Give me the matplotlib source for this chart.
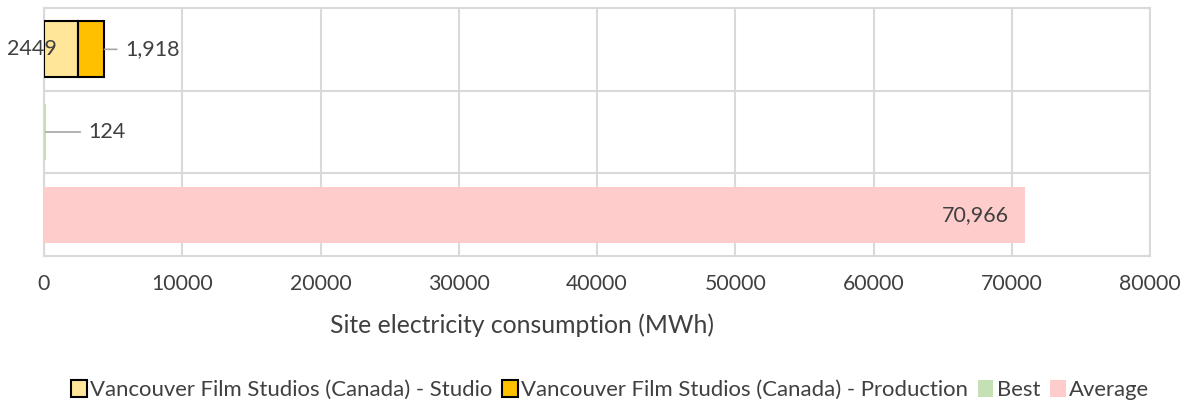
import matplotlib.pyplot as plt
from matplotlib.patches import Patch

plt.rcParams['font.family'] = ['Lato', 'DejaVu Sans']

categories = ['Vancouver Film Studios (Canada)', 'Best', 'Average']
studio = [2449, 0, 0]
production = [1918, 0, 0]
best = [0, 124, 0]
average = [0, 0, 70966]

c_studio = '#FFE699'
c_prod = '#FFC000'
c_best = '#C5E0B4'
c_avg = '#FFCCCC'
txt = '#404040'

fig = plt.figure(figsize=(11.9, 4.03), dpi=100)
ax = fig.add_axes([44 / 1190, 1 - 256 / 403, 1106 / 1190, 248 / 403])

y = [2, 1, 0]
h = 0.68
ax.barh(y[0], studio[0], height=h, color=c_studio, edgecolor='black', linewidth=1.5, zorder=3)
ax.barh(y[0], production[0], left=studio[0], height=h, color=c_prod, edgecolor='black',
        linewidth=1.5, zorder=3)
ax.barh(y[1], best[1], height=h, color=c_best, zorder=3)
ax.barh(y[2], average[2], height=h, color=c_avg, zorder=3)

# labels
fs = 15.5
ax.annotate(f'{studio[0]}', xy=(0, y[0]), xytext=(9, 0), textcoords='offset points',
            ha='right', va='center', fontsize=fs, color=txt, zorder=5)
end = studio[0] + production[0]
ax.annotate(f'{production[0]:,}', xy=(end, y[0]), xytext=(15, 0), textcoords='offset points',
            ha='left', va='center', fontsize=fs, color=txt, zorder=5)
ax.annotate('', xy=(end, y[0]), xytext=(9, 0), textcoords='offset points',
            arrowprops=dict(arrowstyle='-', color='#A6A6A6', lw=1.2, shrinkA=0, shrinkB=0))
ax.annotate(f'{best[1]:,}', xy=(best[1], y[1]), xytext=(31, 0), textcoords='offset points',
            ha='left', va='center', fontsize=fs, color=txt, zorder=5)
ax.annotate('', xy=(best[1], y[1]), xytext=(25, 0), textcoords='offset points',
            arrowprops=dict(arrowstyle='-', color='#A6A6A6', lw=1.2, shrinkA=0, shrinkB=0))
ax.annotate(f'{average[2]:,}', xy=(average[2], y[2]), xytext=(-12, 0), textcoords='offset points',
            ha='right', va='center', fontsize=fs, color=txt, zorder=5)

ax.set_xlim(0, 80000)
ax.set_ylim(-0.5, 2.5)
ax.set_xticks(range(0, 80001, 10000))
ax.set_xticklabels([str(v) for v in range(0, 80001, 10000)], fontsize=15.3, color=txt)
ax.set_yticks([])
ax.tick_params(axis='x', length=0, pad=13)
ax.grid(axis='x', color='#D9D9D9', lw=1.5, zorder=0)
for yy in [0.5, 1.5]:
    ax.axhline(yy, color='#D9D9D9', lw=1.5, zorder=0)
for s in ax.spines.values():
    s.set_color('#D9D9D9')
    s.set_linewidth(1.5)

fig.text(522 / 1190, 1 - 325 / 403, 'Site electricity consumption (MWh)', ha='center', va='center',
         fontsize=17.8, color=txt)

handles = [
    Patch(facecolor=c_studio, edgecolor='black', lw=1.5, label=f'{categories[0]} - Studio'),
    Patch(facecolor=c_prod, edgecolor='black', lw=1.5, label=f'{categories[0]} - Production'),
    Patch(facecolor=c_best, label=categories[1]),
    Patch(facecolor=c_avg, label=categories[2]),
]
fig.legend(handles=handles, loc='center', bbox_to_anchor=(610 / 1190, 1 - 390 / 403), ncol=4,
           frameon=False, fontsize=15.9, handlelength=0.7, handleheight=0.8, handletextpad=0.15,
           columnspacing=0.45, labelcolor=txt)

fig.savefig('out.png', dpi=100)
